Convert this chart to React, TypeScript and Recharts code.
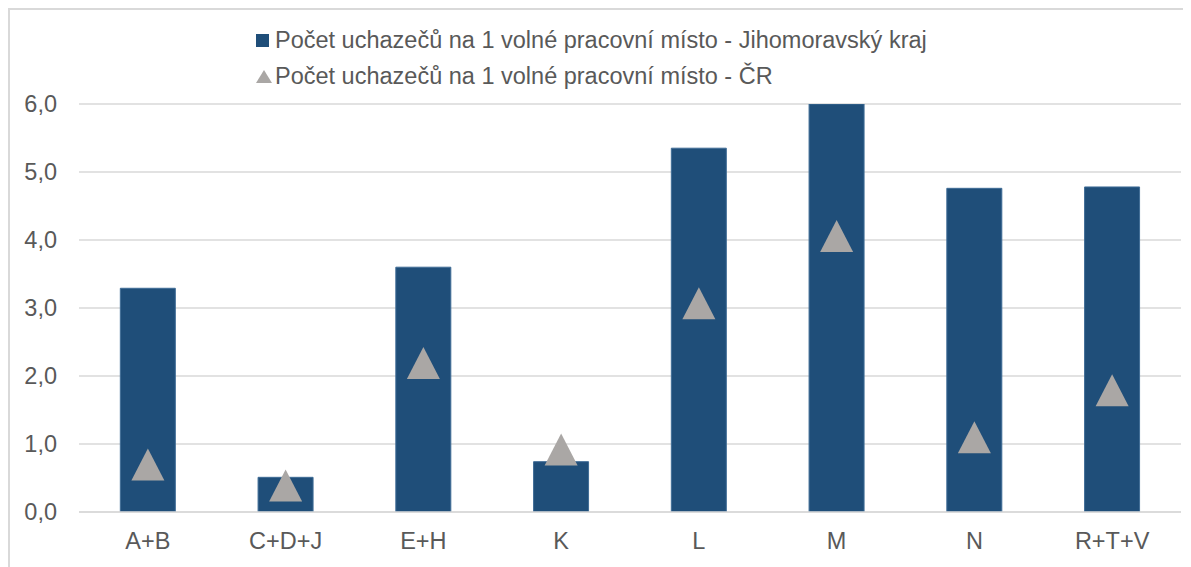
import { ComposedChart, Bar, Line, XAxis, YAxis, CartesianGrid, Legend } from "recharts";

const categories = ["A+B", "C+D+J", "E+H", "K", "L", "M", "N", "R+T+V"];
const krajValues = [3.29, 0.51, 3.6, 0.74, 5.35, 6.0, 4.76, 4.78];
const crValues = [0.7, 0.39, 2.19, 0.92, 3.07, 4.06, 1.1, 1.79];
const yTicks = [0, 1, 2, 3, 4, 5, 6];
const krajName = "Počet uchazečů na 1 volné pracovní místo - Jihomoravský kraj";
const crName = "Počet uchazečů na 1 volné pracovní místo - ČR";

const data = categories.map((c, i) => ({ cat: c, kraj: krajValues[i], cr: crValues[i] }));

const FONT = "'Liberation Sans', Arial, sans-serif";
const TEXT = "#595959";
const BAR = "#1f4e79";
const TRI = "#aaa7a5";
const FS = 23.5;

const YTick = ({ x, y, payload }: any) => (
  <text x={x} y={y} textAnchor="end" dy="0.35em" fontSize={FS} fontFamily={FONT} fill={TEXT}>
    {payload.value.toFixed(1).replace(".", ",")}
  </text>
);

const XTick = ({ x, y, payload }: any) => (
  <text x={x} y={y} textAnchor="middle" dy="0.71em" fontSize={FS} fontFamily={FONT} fill={TEXT}>
    {payload.value}
  </text>
);

const Triangle = (props: any) => {
  const { cx, cy, index } = props;
  if (cx == null || cy == null) return <g key={index} />;
  return (
    <path
      key={index}
      d={`M${cx},${cy - 16} L${cx + 16.5},${cy + 16} L${cx - 16.5},${cy + 16} Z`}
      fill={TRI}
    />
  );
};

const LegendContent = () => (
  <div style={{ fontFamily: FONT, fontSize: FS, color: TEXT, lineHeight: "36px" }}>
    <div style={{ display: "flex", alignItems: "center", whiteSpace: "nowrap" }}>
      <span style={{ display: "inline-block", width: 13, height: 13, background: BAR, marginRight: 6 }} />
      <span>{krajName}</span>
    </div>
    <div style={{ display: "flex", alignItems: "center", whiteSpace: "nowrap" }}>
      <svg width={17} height={15} style={{ marginRight: 2 }}>
        <path d="M8,1 L16,14 L0,14 Z" fill={TRI} />
      </svg>
      <span>{crName}</span>
    </div>
  </div>
);

export default function App() {
  return (
    <div style={{ position: "relative", width: 1191, height: 567, marginLeft: -8, marginTop: -8, background: "#fff" }}>
      <div
        style={{
          position: "absolute",
          left: 8,
          top: 8,
          right: 0,
          bottom: 0,
          borderLeft: "2px solid #d9d9d9",
          borderTop: "2px solid #d9d9d9",
        }}
      />
      <ComposedChart
        width={1191}
        height={567}
        data={data}
        margin={{ top: 104, right: 10, left: 0, bottom: 10 }}
        barCategoryGap="30%"
      >
        <CartesianGrid vertical={false} stroke="#d9d9d9" strokeWidth={1.5} />
        <XAxis
          dataKey="cat"
          height={45}
          axisLine={{ stroke: "#d9d9d9", strokeWidth: 1.5 }}
          tickLine={false}
          tickSize={0}
          tickMargin={20}
          tick={<XTick />}
          interval={0}
        />
        <YAxis
          width={79}
          domain={[0, 6]}
          ticks={yTicks}
          axisLine={false}
          tickLine={false}
          tickSize={0}
          tickMargin={22}
          tick={<YTick />}
          allowDataOverflow
        />
        <Legend
          layout="vertical"
          align="center"
          verticalAlign="middle"
          wrapperStyle={{ top: 22, left: 256, width: "auto", height: "auto" }}
          content={<LegendContent />}
        />
        <Bar dataKey="kraj" name={krajName} fill={BAR} stroke="#3f6c96" strokeWidth={1} isAnimationActive={false} />
        <Line
          dataKey="cr"
          name={crName}
          stroke="none"
          strokeWidth={0}
          dot={Triangle}
          activeDot={false}
          isAnimationActive={false}
        />
      </ComposedChart>
    </div>
  );
}
